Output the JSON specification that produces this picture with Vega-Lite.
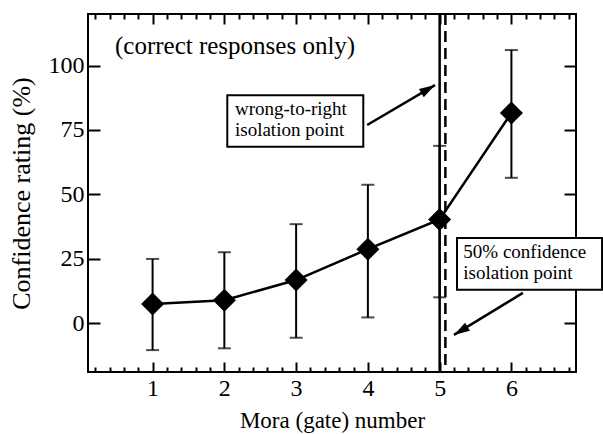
{
  "$schema": "https://vega.github.io/schema/vega-lite/v6.json",
  "width": 488,
  "height": 358,
  "autosize": "none",
  "padding": {"left": 88, "top": 14, "right": 27, "bottom": 62},
  "background": "white",
  "config": {
    "view": {"stroke": "black", "strokeWidth": 2},
    "axis": {
      "grid": false,
      "domain": false,
      "labelFont": "Liberation Serif",
      "labelFontSize": 24,
      "labelColor": "black",
      "tickColor": "black",
      "tickWidth": 2,
      "titleFont": "Liberation Serif",
      "titleFontWeight": "normal",
      "titleColor": "black"
    },
    "text": {"font": "Liberation Serif", "color": "black"}
  },
  "datasets": {
    "pts": [
      {"mora": 1, "conf": 7.4, "lo": -10.5, "hi": 24.9},
      {"mora": 2, "conf": 8.9, "lo": -9.8, "hi": 27.5},
      {"mora": 3, "conf": 16.7, "lo": -5.7, "hi": 38.4},
      {"mora": 4, "conf": 28.7, "lo": 2.2, "hi": 53.7},
      {"mora": 5, "conf": 40.2, "lo": 10.0, "hi": 68.8},
      {"mora": 6, "conf": 81.6, "lo": 56.4, "hi": 106.0}
    ],
    "boxes": [
      {"x1": 2.041, "x2": 3.936, "y1": 88.5, "y2": 68.5},
      {"x1": 5.242, "x2": 7.263, "y1": 33.0, "y2": 12.9}
    ],
    "labels": [
      {"x": 2.148, "y": 80.7, "t": "wrong-to-right"},
      {"x": 2.148, "y": 72.6, "t": "isolation point"},
      {"x": 5.33, "y": 25.3, "t": "50% confidence"},
      {"x": 5.33, "y": 17.1, "t": "isolation point"}
    ],
    "arrows": [
      {"x": 3.99, "y": 76.9, "x2": 4.935, "y2": 92.4},
      {"x": 6.16, "y": 11.7, "x2": 5.20, "y2": -4.6}
    ]
  },
  "resolve": {"axis": {"x": "independent", "y": "independent"}},
  "layer": [
    {
      "data": {"values": [{"v": 5}]},
      "mark": {"type": "rule", "color": "black", "strokeWidth": 2.5},
      "encoding": {
        "x": {"field": "v", "type": "quantitative", "scale": {"domain": [0.1, 6.9], "nice": false, "zero": false}, "axis": null}
      }
    },
    {
      "data": {"values": [{"v": 5.08}]},
      "mark": {"type": "rule", "color": "black", "strokeWidth": 2.5, "strokeDash": [11, 6]},
      "encoding": {
        "x": {"field": "v", "type": "quantitative", "axis": null}
      }
    },
    {
      "data": {"name": "pts"},
      "mark": {"type": "rule", "color": "black", "strokeWidth": 2},
      "encoding": {
        "x": {"field": "mora", "type": "quantitative",
              "axis": {"orient": "bottom", "values": [1, 2, 3, 4, 5, 6], "tickSize": -10, "labelPadding": 14, "title": "Mora (gate) number", "titleFontSize": 23, "titlePadding": 9}},
        "y": {"field": "lo", "type": "quantitative", "scale": {"domain": [-19, 120], "nice": false, "zero": false},
              "axis": {"orient": "left", "values": [0, 25, 50, 75, 100], "tickSize": -12, "labelPadding": 16, "title": "Confidence rating (%)", "titleFontSize": 26, "titlePadding": 14}},
        "y2": {"field": "hi"}
      }
    },
    {
      "data": {"name": "pts"},
      "mark": {"type": "tick", "color": "black", "orient": "horizontal", "size": 13, "thickness": 2},
      "encoding": {
        "x": {"field": "mora", "type": "quantitative",
              "axis": {"orient": "bottom", "values": [0.2, 0.4, 0.6, 0.8, 1.2, 1.4, 1.6, 1.8, 2.2, 2.4, 2.6, 2.8, 3.2, 3.4, 3.6, 3.8, 4.2, 4.4, 4.6, 4.8, 5.2, 5.4, 5.6, 5.8, 6.2, 6.4, 6.6, 6.8], "tickSize": -5, "labels": false, "title": null}},
        "y": {"field": "lo", "type": "quantitative", "axis": null}
      }
    },
    {
      "data": {"name": "pts"},
      "mark": {"type": "tick", "color": "black", "orient": "horizontal", "size": 13, "thickness": 2},
      "encoding": {
        "x": {"field": "mora", "type": "quantitative",
              "axis": {"orient": "top", "values": [1, 2, 3, 4, 5, 6], "tickSize": -10, "labels": false, "title": null}},
        "y": {"field": "hi", "type": "quantitative", "axis": null}
      }
    },
    {
      "data": {"name": "pts"},
      "mark": {"type": "line", "color": "black", "strokeWidth": 2.5},
      "encoding": {
        "x": {"field": "mora", "type": "quantitative",
              "axis": {"orient": "top", "values": [0.2, 0.4, 0.6, 0.8, 1.2, 1.4, 1.6, 1.8, 2.2, 2.4, 2.6, 2.8, 3.2, 3.4, 3.6, 3.8, 4.2, 4.4, 4.6, 4.8, 5.2, 5.4, 5.6, 5.8, 6.2, 6.4, 6.6, 6.8], "tickSize": -5, "labels": false, "title": null}},
        "y": {"field": "conf", "type": "quantitative",
              "axis": {"orient": "right", "values": [0, 25, 50, 75, 100], "tickSize": -12, "labels": false, "title": null}}
      }
    },
    {
      "data": {"name": "pts"},
      "mark": {"type": "point", "shape": "diamond", "filled": true, "color": "black", "opacity": 1, "size": 530},
      "encoding": {
        "x": {"field": "mora", "type": "quantitative", "axis": null},
        "y": {"field": "conf", "type": "quantitative", "axis": null}
      }
    },
    {
      "data": {"name": "arrows"},
      "mark": {"type": "rule", "color": "black", "strokeWidth": 2.5},
      "encoding": {
        "x": {"field": "x", "type": "quantitative", "axis": null},
        "y": {"field": "y", "type": "quantitative", "axis": null},
        "x2": {"field": "x2"},
        "y2": {"field": "y2"}
      }
    },
    {
      "data": {"values": [{"x": 4.935, "y": 92.4}]},
      "mark": {"type": "point", "shape": "M0,0L-0.3,1L0.3,1Z", "filled": true, "color": "black", "opacity": 1, "size": 1000, "angle": 59.5},
      "encoding": {
        "x": {"field": "x", "type": "quantitative", "axis": null},
        "y": {"field": "y", "type": "quantitative", "axis": null}
      }
    },
    {
      "data": {"values": [{"x": 5.20, "y": -4.6}]},
      "mark": {"type": "point", "shape": "M0,0L-0.3,1L0.3,1Z", "filled": true, "color": "black", "opacity": 1, "size": 1000, "angle": 238.6},
      "encoding": {
        "x": {"field": "x", "type": "quantitative", "axis": null},
        "y": {"field": "y", "type": "quantitative", "axis": null}
      }
    },
    {
      "data": {"name": "boxes"},
      "mark": {"type": "rect", "fill": "white", "stroke": "black", "strokeWidth": 2},
      "encoding": {
        "x": {"field": "x1", "type": "quantitative", "axis": null},
        "x2": {"field": "x2"},
        "y": {"field": "y1", "type": "quantitative", "axis": null},
        "y2": {"field": "y2"}
      }
    },
    {
      "data": {"name": "labels"},
      "mark": {"type": "text", "align": "left", "baseline": "alphabetic", "fontSize": 19},
      "encoding": {
        "x": {"field": "x", "type": "quantitative", "axis": null},
        "y": {"field": "y", "type": "quantitative", "axis": null},
        "text": {"field": "t"}
      }
    },
    {
      "data": {"values": [{"x": 0.476, "y": 104.3, "t": "(correct responses only)"}]},
      "mark": {"type": "text", "align": "left", "baseline": "alphabetic", "fontSize": 25},
      "encoding": {
        "x": {"field": "x", "type": "quantitative", "axis": null},
        "y": {"field": "y", "type": "quantitative", "axis": null},
        "text": {"field": "t"}
      }
    }
  ]
}
